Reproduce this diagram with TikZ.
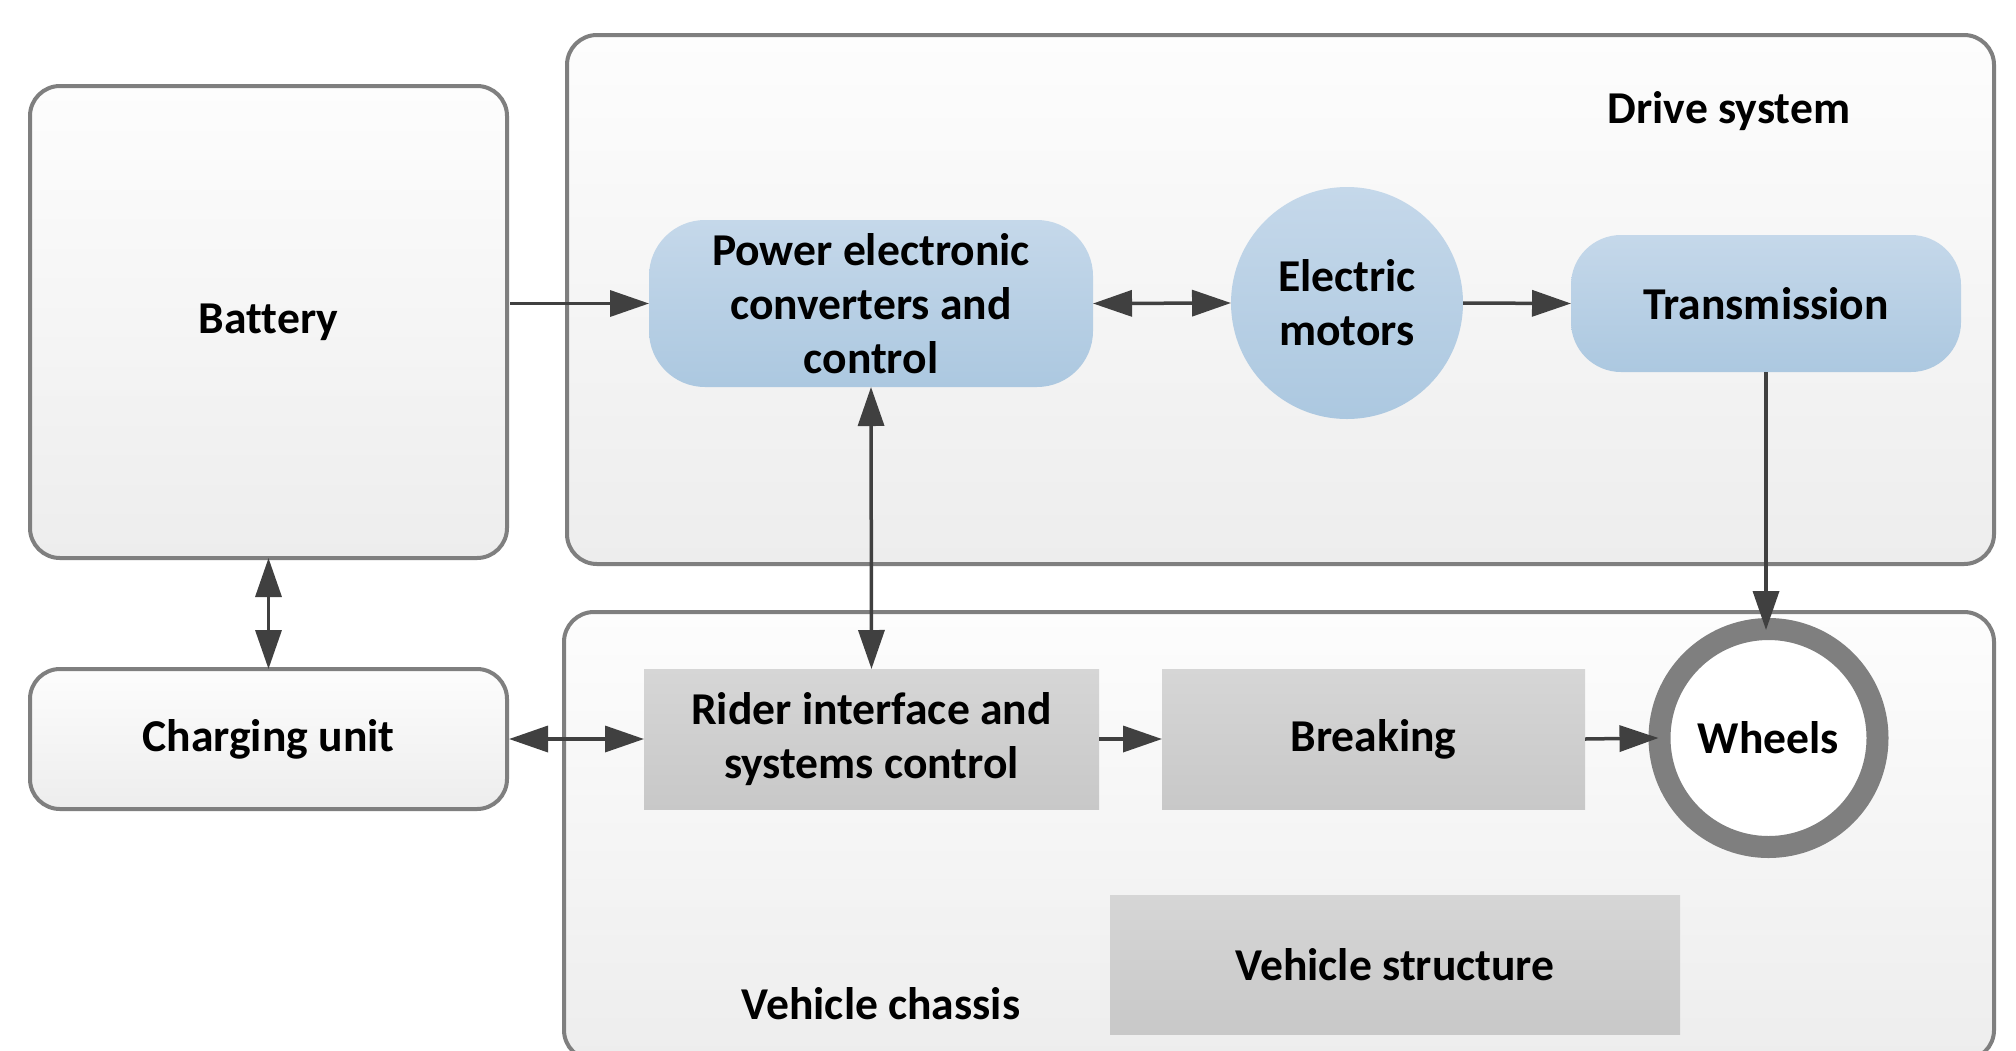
\documentclass[tikz,border=0pt]{standalone}
\usepackage{fontspec}
\setmainfont{Carlito}[Ligatures=NoCommon]
\usetikzlibrary{arrows.meta}
\definecolor{bordergray}{HTML}{7F7F7F}
\definecolor{arrowgray}{HTML}{404040}
\definecolor{bluetop}{HTML}{C5D8EA}
\definecolor{bluebot}{HTML}{ACC8E0}
\definecolor{greytop}{HTML}{D6D6D6}
\definecolor{greybot}{HTML}{C8C8C8}
\definecolor{paneltop}{HTML}{FDFDFD}
\definecolor{panelbot}{HTML}{EDEDED}
\tikzset{
  txt/.style={font=\fontsize{22.8}{27}\selectfont\bfseries, align=center, text=black},
  panel/.style={txt, draw=bordergray, line width=2pt, rounded corners=15pt,
    top color=paneltop, bottom color=panelbot, outer sep=0pt, inner sep=0pt},
  bluebox/.style={txt, top color=bluetop, bottom color=bluebot, outer sep=0pt, inner sep=0pt},
  greybox/.style={txt, top color=greytop, bottom color=greybot, outer sep=0pt, inner sep=0pt},
  conn/.style={draw=arrowgray, line width=1.75pt, -{Triangle[length=19.5pt,width=13pt]}},
  biconn/.style={draw=arrowgray, line width=1.75pt, {Triangle[length=19.5pt,width=13pt]}-{Triangle[length=19.5pt,width=13pt]}},
}
\begin{document}
\begin{tikzpicture}[x=0.5pt,y=-0.5pt]
\useasboundingbox (0,0) rectangle (2016,1050);
\fill[white] (0,0) rectangle (2016,1050);
\clip (0,0) rectangle (2016,1050);

% containers
\node[panel, rectangle, minimum width=713.5pt, minimum height=264.5pt] (drive) at (1280.5,299.5) {};
\node[panel, rectangle, minimum width=715pt, minimum height=224pt] (chassis) at (1279,836) {};
\node[txt] (drivelbl) at (1729,111) {Drive system};
\node[txt] (chassislbl) at (881,1004) {Vehicle chassis};

% left blocks
\node[panel, minimum width=238.5pt, minimum height=236pt] (battery) at (268.5,322) {Battery};
\node[panel, minimum width=238.5pt, minimum height=70pt] (charging) at (268.5,739) {Charging unit};

% drive system blocks
\node[bluebox, rounded corners=28pt, minimum width=222pt, minimum height=83.5pt] (power) at (871,303.5) {Power electronic\\converters and\\control};
\node[bluebox, circle, minimum size=116pt] (motors) at (1347,303) {Electric\\motors};
\node[bluebox, rounded corners=25pt, minimum width=195pt, minimum height=68.5pt] (trans) at (1766,303.5) {Transmission};

% chassis blocks
\node[greybox, minimum width=227.5pt, minimum height=70pt] (rider) at (871.5,739) {Rider interface and\\systems control};
\node[greybox, minimum width=211.5pt, minimum height=70pt] (breaking) at (1373.5,739) {Breaking};
\node[txt, circle, draw=bordergray, line width=11pt, fill=white, minimum size=109pt] (wheels) at (1768.5,738) {Wheels};
\node[greybox, minimum width=285pt, minimum height=69.5pt] (structure) at (1395,964.5) {Vehicle structure};

% connectors
\draw[conn] ([xshift=1.5pt]battery.east |- power.west) -- (power.west);
\draw[biconn] (power.east) -- (motors.west);
\draw[conn] (motors.east) -- (trans.west);
\draw[conn] (trans.south) -- ([yshift=-6pt]trans.south |- wheels.north);
\draw[biconn] (power.south) -- (rider.north);
\draw[biconn] (battery.south) -- (charging.north);
\draw[biconn] ([xshift=1pt]charging.east) -- (rider.west);
\draw[conn] (rider.east) -- (breaking.west);
\draw[conn] (breaking.east) -- ([xshift=5pt]wheels.west);
\end{tikzpicture}
\end{document}
